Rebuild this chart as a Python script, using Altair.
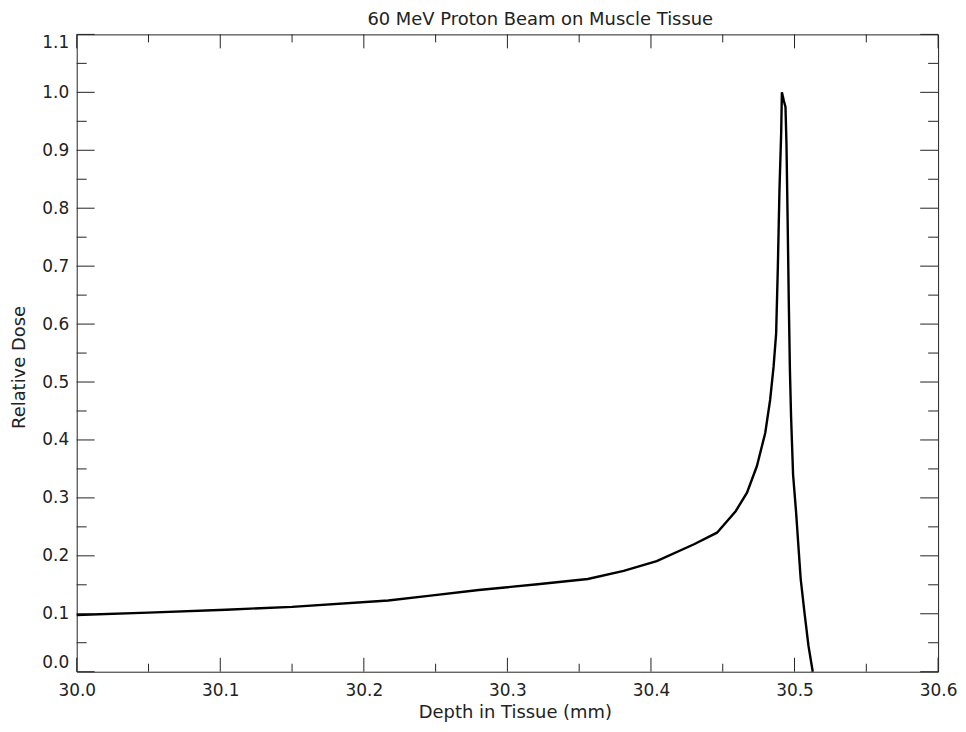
import altair as alt
import pandas as pd

# Bragg curve
depth = [30.000, 30.050, 30.104, 30.150, 30.217, 30.245, 30.280, 30.321, 30.356, 30.381,
         30.404, 30.430, 30.446, 30.459, 30.4669, 30.4738, 30.4796, 30.4830, 30.4854, 30.4872,
         30.4884, 30.4895, 30.4907, 30.4912, 30.4926, 30.4937, 30.4944, 30.4952, 30.4960, 30.4968,
         30.4976, 30.4990, 30.5011, 30.5027, 30.5043, 30.5069, 30.5097, 30.5127]
dose = [0.098, 0.102, 0.107, 0.112, 0.123, 0.131, 0.141, 0.151, 0.160, 0.174,
        0.191, 0.220, 0.240, 0.277, 0.309, 0.355, 0.412, 0.469, 0.526, 0.584,
        0.700, 0.830, 0.930, 1.000, 0.985, 0.975, 0.910, 0.780, 0.640, 0.520,
        0.440, 0.340, 0.275, 0.217, 0.160, 0.103, 0.045, 0.000]

x_major = [30.0, 30.1, 30.2, 30.3, 30.4, 30.5, 30.6]
x_minor = [30.05, 30.15, 30.25, 30.35, 30.45, 30.55]
y_major = [0.0, 0.1, 0.2, 0.3, 0.4, 0.5, 0.6, 0.7, 0.8, 0.9, 1.0, 1.1]
y_minor = [0.05, 0.15, 0.25, 0.35, 0.45, 0.55, 0.65, 0.75, 0.85, 0.95, 1.05]

W, H = 865, 640
FONT = "DejaVu Sans"
INK = "#222222"

xscale = alt.Scale(domain=[30.0, 30.6], nice=False, zero=False)
yscale = alt.Scale(domain=[0.0, 1.1], nice=False, zero=False)

XAX = alt.Axis(values=x_major, format=".1f", title="Depth in Tissue (mm)",
               ticks=False, domain=False, grid=False, labelFlush=False,
               labelPadding=11, titlePadding=5, titleX=440)
YAX = alt.Axis(values=y_major, format=".1f", title="Relative Dose",
               ticks=False, domain=False, grid=False, labelFlush=True,
               labelPadding=8, titlePadding=13, titleY=334)

curve = pd.DataFrame({"depth": depth, "dose": dose, "i": list(range(len(depth)))})

line = alt.Chart(curve).mark_line(color="black", strokeWidth=2.4).encode(
    x=alt.X("depth:Q", scale=xscale, axis=XAX),
    y=alt.Y("dose:Q", scale=yscale, axis=YAX),
    order="i:Q",
)


def xticks(vals, y0, y1):
    return alt.Chart(pd.DataFrame({"depth": vals})).mark_rule(color=INK, strokeWidth=1).encode(
        x=alt.X("depth:Q", scale=xscale, axis=XAX), y=alt.value(y0), y2=alt.value(y1))


def yticks(vals, x0, x1):
    return alt.Chart(pd.DataFrame({"dose": vals})).mark_rule(color=INK, strokeWidth=1).encode(
        y=alt.Y("dose:Q", scale=yscale, axis=YAX), x=alt.value(x0), x2=alt.value(x1))


layers = [
    line,
    xticks(x_major, H, H - 14), xticks(x_major, 0, 14),
    xticks(x_minor, H, H - 8), xticks(x_minor, 0, 8),
    yticks(y_major, 0, 18), yticks(y_major, W, W - 18),
    yticks(y_minor, 0, 10), yticks(y_minor, W, W - 10),
]

chart = alt.layer(*layers).properties(
    width=W, height=H,
    background="white",
    title=alt.TitleParams("60 MeV Proton Beam on Muscle Tissue", font=FONT, fontSize=18,
                          fontWeight="normal", color=INK, offset=4, frame="group", dx=33),
    autosize=alt.AutoSizeParams(type="none"),
    padding={"left": 69, "top": 25, "right": 20, "bottom": 52},
).configure_view(stroke=INK, strokeWidth=1).configure_axis(
    labelFont=FONT, labelFontSize=17, labelColor=INK, labelOverlap=False,
    titleFont=FONT, titleFontSize=18, titleFontWeight="normal", titleColor=INK,
)

chart.save("out.html", embed_options={"renderer": "svg", "actions": False})
